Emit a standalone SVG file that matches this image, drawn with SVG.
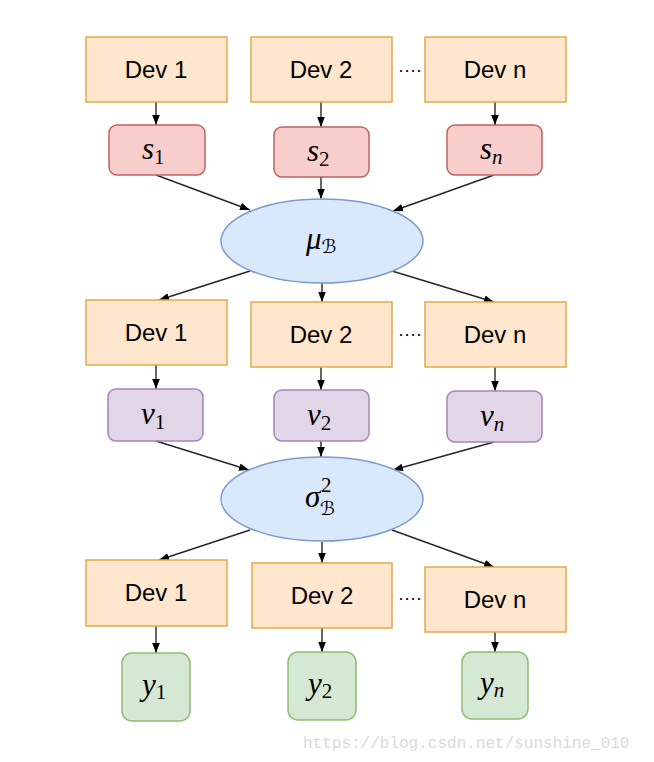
<svg xmlns="http://www.w3.org/2000/svg" width="654" height="762" viewBox="0 0 654 762">
<style>
.dev rect{fill:#ffe6cc;stroke:#e0ac4a;stroke-width:1.5}
.s rect{fill:#f8cecc;stroke:#c0625e;stroke-width:1.5}
.v rect{fill:#e1d5e7;stroke:#a585b6;stroke-width:1.5}
.y rect{fill:#d5e8d4;stroke:#8fbd72;stroke-width:1.5}
.ell ellipse{fill:#dae8fc;stroke:#7b9bcc;stroke-width:1.5}
.lbl{font-family:"Liberation Sans",Arial,sans-serif;font-size:24px;fill:#000;text-anchor:middle}
.math{font-family:"Liberation Serif","DejaVu Serif",serif;font-style:italic;font-size:31px;fill:#000}
.sub{font-family:"Liberation Serif","DejaVu Serif",serif;font-style:normal;font-size:21px}
.scr{font-family:"DejaVu Sans",sans-serif;font-style:normal;font-size:19px}
.dots{font-family:"Liberation Sans",Arial,sans-serif;font-size:18px;fill:#000}
#connectors line{stroke:#262626;stroke-width:1.4;marker-end:url(#ah)}
.wm{font-family:"Liberation Mono","DejaVu Sans Mono",monospace;font-size:16px;fill:#dadada}
</style>
<defs>
<marker id="ah" markerUnits="userSpaceOnUse" markerWidth="10" markerHeight="10" viewBox="0 0 10 10" refX="10" refY="5" orient="auto">
<path d="M0,1.2 L10,5 L0,8.8 Z" fill="#000"/>
</marker>
</defs>
<rect width="654" height="762" fill="#fff"/>

<g id="connectors">
<line x1="156" y1="102" x2="156" y2="125"/>
<line x1="321" y1="102" x2="321" y2="127"/>
<line x1="495" y1="102" x2="495" y2="125"/>
<line x1="156" y1="175" x2="250" y2="210"/>
<line x1="321" y1="177" x2="321" y2="199"/>
<line x1="494" y1="175" x2="393" y2="211"/>
<line x1="250" y1="271" x2="159" y2="300"/>
<line x1="322" y1="283" x2="322" y2="302"/>
<line x1="392" y1="271" x2="494" y2="302"/>
<line x1="156" y1="365" x2="156" y2="389"/>
<line x1="321" y1="367" x2="321" y2="390"/>
<line x1="495" y1="367" x2="495" y2="391"/>
<line x1="156" y1="441" x2="249" y2="470"/>
<line x1="321" y1="441" x2="321" y2="457"/>
<line x1="494" y1="442" x2="393" y2="470"/>
<line x1="250" y1="530" x2="159" y2="560"/>
<line x1="322" y1="542" x2="322" y2="563"/>
<line x1="392" y1="530" x2="494" y2="567"/>
<line x1="156" y1="626" x2="156" y2="653"/>
<line x1="322" y1="628" x2="322" y2="652"/>
<line x1="495" y1="632" x2="495" y2="652"/>
</g>

<g id="dev1a" class="dev"><rect x="86" y="37" width="141" height="65"/><text class="lbl" x="156" y="78">Dev 1</text></g>
<g id="dev2a" class="dev"><rect x="251" y="37" width="141" height="65"/><text class="lbl" x="321" y="78">Dev 2</text></g>
<g id="devna" class="dev"><rect x="425" y="37" width="141" height="65"/><text class="lbl" x="495" y="78">Dev n</text></g>
<text class="dots" x="398" y="76">····</text>

<g id="s1" class="s"><rect x="109" y="125" width="96" height="50" rx="8"/><text class="math" x="142" y="159">s<tspan class="sub" dy="5">1</tspan></text></g>
<g id="s2" class="s"><rect x="274" y="127" width="95" height="50" rx="8"/><text class="math" x="307" y="161">s<tspan class="sub" dy="5">2</tspan></text></g>
<g id="sn" class="s"><rect x="447" y="125" width="95" height="50" rx="8"/><text class="math" x="480" y="159">s<tspan class="sub" style="font-style:italic" dy="5">n</tspan></text></g>

<g id="mu" class="ell"><ellipse cx="322" cy="241" rx="101" ry="42"/><text class="math" x="306" y="249">μ<tspan class="scr" dy="4">ℬ</tspan></text></g>

<g id="dev1b" class="dev"><rect x="86" y="300" width="141" height="65"/><text class="lbl" x="156" y="341">Dev 1</text></g>
<g id="dev2b" class="dev"><rect x="251" y="302" width="141" height="65"/><text class="lbl" x="321" y="343">Dev 2</text></g>
<g id="devnb" class="dev"><rect x="425" y="302" width="141" height="65"/><text class="lbl" x="495" y="343">Dev n</text></g>
<text class="dots" x="398" y="340">····</text>

<g id="v1" class="v"><rect x="108" y="389" width="95" height="52" rx="8"/><text class="math" x="141" y="424">v<tspan class="sub" dy="5">1</tspan></text></g>
<g id="v2" class="v"><rect x="274" y="390" width="95" height="51" rx="8"/><text class="math" x="307" y="425">v<tspan class="sub" dy="5">2</tspan></text></g>
<g id="vn" class="v"><rect x="447" y="391" width="95" height="51" rx="8"/><text class="math" x="480" y="426">v<tspan class="sub" style="font-style:italic" dy="5">n</tspan></text></g>

<g id="sigma" class="ell"><ellipse cx="322" cy="499" rx="101" ry="42"/><text class="math" x="305" y="507">σ</text><text class="sub" x="321" y="492">2</text><text class="scr" x="320" y="515">ℬ</text></g>

<g id="dev1c" class="dev"><rect x="86" y="560" width="141" height="66"/><text class="lbl" x="156" y="601">Dev 1</text></g>
<g id="dev2c" class="dev"><rect x="252" y="563" width="140" height="65"/><text class="lbl" x="322" y="604">Dev 2</text></g>
<g id="devnc" class="dev"><rect x="425" y="567" width="141" height="65"/><text class="lbl" x="495" y="608">Dev n</text></g>
<text class="dots" x="398" y="604">····</text>

<g id="y1" class="y"><rect x="122" y="653" width="68" height="68" rx="10"/><text class="math" x="142" y="695">y<tspan class="sub" dy="4">1</tspan></text></g>
<g id="y2" class="y"><rect x="288" y="652" width="68" height="68" rx="10"/><text class="math" x="308" y="694">y<tspan class="sub" dy="4">2</tspan></text></g>
<g id="yn" class="y"><rect x="462" y="652" width="66" height="67" rx="10"/><text class="math" x="480" y="693">y<tspan class="sub" style="font-style:italic" dy="4">n</tspan></text></g>

<text class="wm" x="303" y="748">https://blog.csdn.net/sunshine_010</text>
</svg>
